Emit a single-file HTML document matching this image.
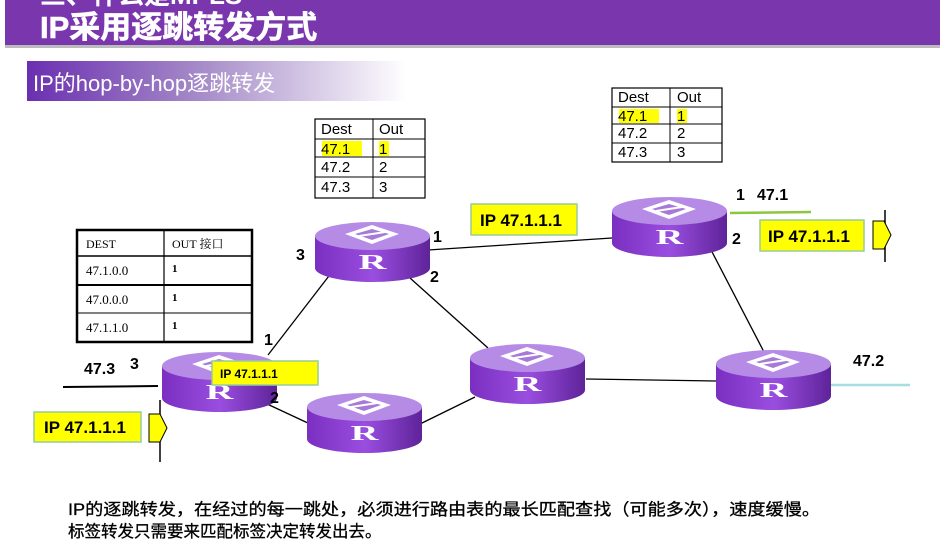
<!DOCTYPE html>
<html><head><meta charset="utf-8"><style>
body{margin:0;width:946px;height:556px;background:#fff;overflow:hidden;font-family:"Liberation Sans","Noto Sans CJK SC",sans-serif}
svg{position:absolute;left:0;top:0}
</style></head><body>
<svg width="946" height="556" viewBox="0 0 946 556" xmlns="http://www.w3.org/2000/svg">
<defs>
<linearGradient id="sub" x1="0" x2="1"><stop offset="0" stop-color="#6a2fb0"/><stop offset="0.45" stop-color="#a58ac8"/><stop offset="1" stop-color="#fff"/></linearGradient>
<linearGradient id="body" x1="0" x2="1"><stop offset="0" stop-color="#7a2fc0"/><stop offset="0.5" stop-color="#9a4ee0"/><stop offset="1" stop-color="#5e2399"/></linearGradient>
<g id="r">
<path d="M0 14 L0 46 A57.5 14 0 0 0 115 46 L115 14 Z" fill="url(#body)"/>
<ellipse cx="57.5" cy="14" rx="57.5" ry="14" fill="#b58be6"/>
<path d="M57 3 L84 12 L57 22 L30 12 Z" fill="#fff"/>
<path d="M57 7 L74 12 L57 18 L40 12 Z" fill="#a77ad8"/>
<line x1="44" y1="14" x2="70" y2="10" stroke="#fff" stroke-width="2"/>
<text x="0" y="0" transform="translate(57.5 47) scale(1.6 0.9)" text-anchor="middle" font-family="Liberation Serif,serif" font-weight="bold" font-size="24" fill="#fff">R</text>
</g>
</defs>
<rect x="5" y="0" width="935" height="45" fill="#7a36ac"/>
<rect x="5" y="45" width="935" height="3" fill="#bbb"/>
<text x="40" y="4" font-weight="bold" font-size="26" fill="#fff" font-family="Liberation Sans,'Noto Sans CJK SC',sans-serif">三、什么是MPLS</text>
<text x="40" y="38" font-family="Liberation Sans,'Noto Sans CJK SC',sans-serif" font-weight="bold" font-size="31" fill="#fff" stroke="#fff" stroke-width="0.6">IP采用逐跳转发方式</text>
<rect x="27" y="61" width="380" height="40" fill="url(#sub)"/>
<text x="33" y="91" font-size="22" fill="#fff" font-family="Liberation Sans,'Noto Sans CJK SC',sans-serif">IP的hop-by-hop逐跳转发</text>

<g stroke="#000" stroke-width="1.3">
<line x1="268" y1="355" x2="332" y2="272"/>
<line x1="428" y1="250" x2="612" y2="238"/>
<line x1="410" y1="278" x2="488" y2="348"/>
<line x1="250" y1="396" x2="310" y2="424"/>
<line x1="420" y1="424" x2="475" y2="397"/>
<line x1="586" y1="379" x2="716" y2="381"/>
<line x1="710" y1="248" x2="764" y2="352"/>
<line x1="63" y1="387" x2="158" y2="386" stroke-width="2"/>
<line x1="160" y1="400" x2="160" y2="462" stroke-width="1.5"/>
<line x1="885" y1="210" x2="885" y2="262" stroke-width="1.5"/>
</g>
<line x1="730" y1="213" x2="811" y2="212" stroke="#8cc63f" stroke-width="2.5"/>
<line x1="830" y1="385" x2="910" y2="385" stroke="#a8dde0" stroke-width="2.5"/>

<use href="#r" x="315" y="222"/>
<use href="#r" x="612" y="197"/>
<use href="#r" x="162" y="352"/>
<use href="#r" x="307" y="393"/>
<use href="#r" x="470" y="344"/>
<use href="#r" x="716" y="350"/>

<g font-weight="bold" font-size="16" fill="#000">
<text x="296" y="260">3</text><text x="433" y="242">1</text><text x="430" y="282">2</text>
<text x="736" y="200">1</text><text x="757" y="200">47.1</text><text x="732" y="244">2</text>
<text x="264" y="345">1</text><text x="130" y="369">3</text><text x="84" y="374">47.3</text><text x="270" y="403">2</text>
<text x="853" y="366">47.2</text>
</g>

<g font-weight="bold" fill="#000">
<rect x="471" y="204" width="106" height="31" fill="#ffff00" stroke="#9c9" stroke-width="1.5"/><text x="480" y="226" font-size="17">IP 47.1.1.1</text>
<rect x="760" y="220" width="104" height="31" fill="#ffff00" stroke="#9c9" stroke-width="1.5"/><text x="768" y="242" font-size="17">IP 47.1.1.1</text>
<rect x="34" y="412" width="107" height="30" fill="#ffff00" stroke="#9c9" stroke-width="1.5"/><text x="44" y="433" font-size="17">IP 47.1.1.1</text>
<rect x="212" y="361" width="106" height="24" fill="#ffff00" stroke="#9c9" stroke-width="1.5"/><text x="220" y="378" font-size="12">IP 47.1.1.1</text>
</g>
<path d="M149 414 L160 414 L167 428 L160 442 L149 442 Z" fill="#ffff00" stroke="#000" stroke-width="1"/>
<path d="M873 221 L884 221 L891 235 L884 249 L873 249 Z" fill="#ffff00" stroke="#000" stroke-width="1"/>

<g font-family="Liberation Serif,'Noto Serif CJK SC',serif" font-size="13" fill="#000">
<rect x="77" y="230" width="175" height="112" fill="#fff" stroke="#000" stroke-width="2.5"/>
<line x1="77" y1="256" x2="252" y2="256" stroke="#000" stroke-width="1.5"/>
<line x1="77" y1="285" x2="252" y2="285" stroke="#000" stroke-width="2"/>
<line x1="77" y1="313" x2="252" y2="313" stroke="#000" stroke-width="1"/>
<line x1="164" y1="230" x2="164" y2="342" stroke="#000" stroke-width="1.2"/>
<text x="86" y="248" font-size="12">DEST</text><text x="172" y="248" font-size="12">OUT 接口</text>
<text x="86" y="275">47.1.0.0</text><text x="172" y="272" font-size="11" font-weight="bold">1</text>
<text x="86" y="304">47.0.0.0</text><text x="172" y="301" font-size="11" font-weight="bold">1</text>
<text x="86" y="332">47.1.1.0</text><text x="172" y="329" font-size="11" font-weight="bold">1</text>
</g>

<g font-size="15" fill="#000">
<rect x="315" y="119" width="110" height="79" fill="#fff" stroke="#000" stroke-width="1.2"/>
<line x1="315" y1="139" x2="425" y2="139" stroke="#000"/><line x1="315" y1="157" x2="425" y2="157" stroke="#000"/><line x1="315" y1="177" x2="425" y2="177" stroke="#000"/>
<line x1="373" y1="119" x2="373" y2="198" stroke="#000"/>
<rect x="322" y="141" width="40" height="15" fill="#ffff00"/><rect x="379" y="141" width="10" height="15" fill="#ffff00"/>
<text x="321" y="134">Dest</text><text x="379" y="134">Out</text>
<text x="321" y="154">47.1</text><text x="379" y="154">1</text>
<text x="321" y="172">47.2</text><text x="379" y="172">2</text>
<text x="321" y="192">47.3</text><text x="379" y="192">3</text>
</g>
<g font-size="15" fill="#000">
<rect x="612" y="88" width="110" height="74" fill="#fff" stroke="#000" stroke-width="1.2"/>
<line x1="612" y1="107" x2="722" y2="107" stroke="#000"/><line x1="612" y1="124" x2="722" y2="124" stroke="#000"/><line x1="612" y1="143" x2="722" y2="143" stroke="#000"/>
<line x1="670" y1="88" x2="670" y2="162" stroke="#000"/>
<rect x="619" y="109" width="40" height="14" fill="#ffff00"/><rect x="677" y="109" width="10" height="14" fill="#ffff00"/>
<text x="618" y="102">Dest</text><text x="677" y="102">Out</text>
<text x="618" y="121">47.1</text><text x="677" y="121">1</text>
<text x="618" y="138">47.2</text><text x="677" y="138">2</text>
<text x="618" y="157">47.3</text><text x="677" y="157">3</text>
</g>

<text x="68" y="515" font-size="16.5" fill="#000" stroke="#000" stroke-width="0.3" textLength="752" lengthAdjust="spacingAndGlyphs" font-family="Liberation Sans,'Noto Sans CJK SC',sans-serif">IP的逐跳转发，在经过的每一跳处，必须进行路由表的最长匹配查找（可能多次），速度缓慢。</text>
<text x="68" y="537" font-size="16.5" fill="#000" stroke="#000" stroke-width="0.3" font-family="Liberation Sans,'Noto Sans CJK SC',sans-serif">标签转发只需要来匹配标签决定转发出去。</text>
</svg>
</body></html>
